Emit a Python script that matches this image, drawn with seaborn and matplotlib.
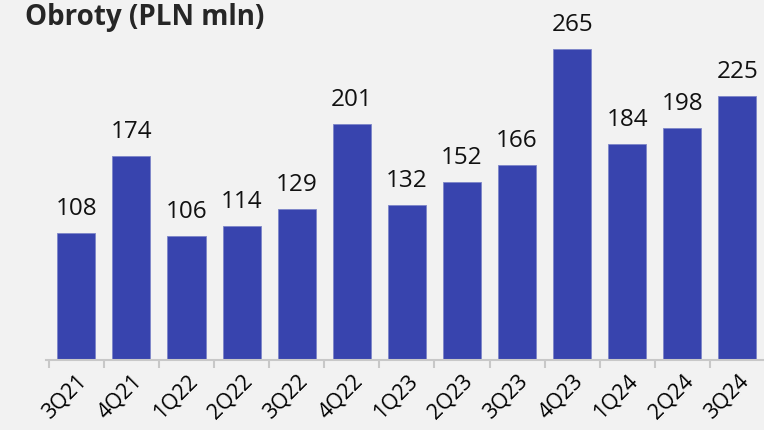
import numpy as np
import pandas as pd
import matplotlib
matplotlib.use("Agg")
import matplotlib.pyplot as plt
import seaborn as sns

quarters = ["3Q21", "4Q21", "1Q22", "2Q22", "3Q22", "4Q22", "1Q23",
            "2Q23", "3Q23", "4Q23", "1Q24", "2Q24", "3Q24"]
turnover = [108, 174, 106, 114, 129, 201, 132, 152, 166, 265, 184, 198, 225]

bg = "#f2f2f2"
bar_color = "#3844ae"

sns.set_theme(style="white")
plt.rcParams["font.family"] = ["Open Sans", "DejaVu Sans"]

df = pd.DataFrame({"quarter": quarters, "value": turnover})

fig = plt.figure(figsize=(7.64, 4.31), dpi=100, facecolor=bg)
ax = fig.add_axes([46 / 764, 70 / 431, 719 / 764, 361 / 431])
ax.set_facecolor(bg)

sns.barplot(data=df, x="quarter", y="value", color=bar_color, width=0.69,
            saturation=1, edgecolor="#7d85c8", linewidth=0.6, ax=ax)

for i, v in enumerate(turnover):
    ax.text(i, v + 11, f"{v}", ha="center", va="bottom", fontsize=17.5,
            color="#111111")

ax.set_xlim(-0.55, len(quarters) - 0.5)
ax.set_ylim(0, 307.6)
ax.set_yticks([])
ax.set_xlabel("")
ax.set_ylabel("")

for side in ["top", "right", "left"]:
    ax.spines[side].set_visible(False)
ax.spines["bottom"].set_color("#c8c8c8")
ax.spines["bottom"].set_linewidth(1.5)

ax.set_xticks(np.arange(len(quarters)))
ax.set_xticklabels(quarters, rotation=45, ha="right", rotation_mode="anchor",
                   fontsize=15.5, color="#000000")
ax.tick_params(axis="x", which="major", length=0, pad=7)
ax.set_xticks(np.arange(len(quarters)) - 0.5, minor=True)
ax.tick_params(axis="x", which="minor", length=6, width=1.5, color="#c8c8c8",
               direction="out", bottom=True)

fig.text(25 / 764, 1 - 18 / 431, "Obroty (PLN mln)", ha="left", va="center",
         fontsize=20, fontweight="bold", color="#262626")

fig.savefig("out.png", dpi=100, facecolor=bg)
